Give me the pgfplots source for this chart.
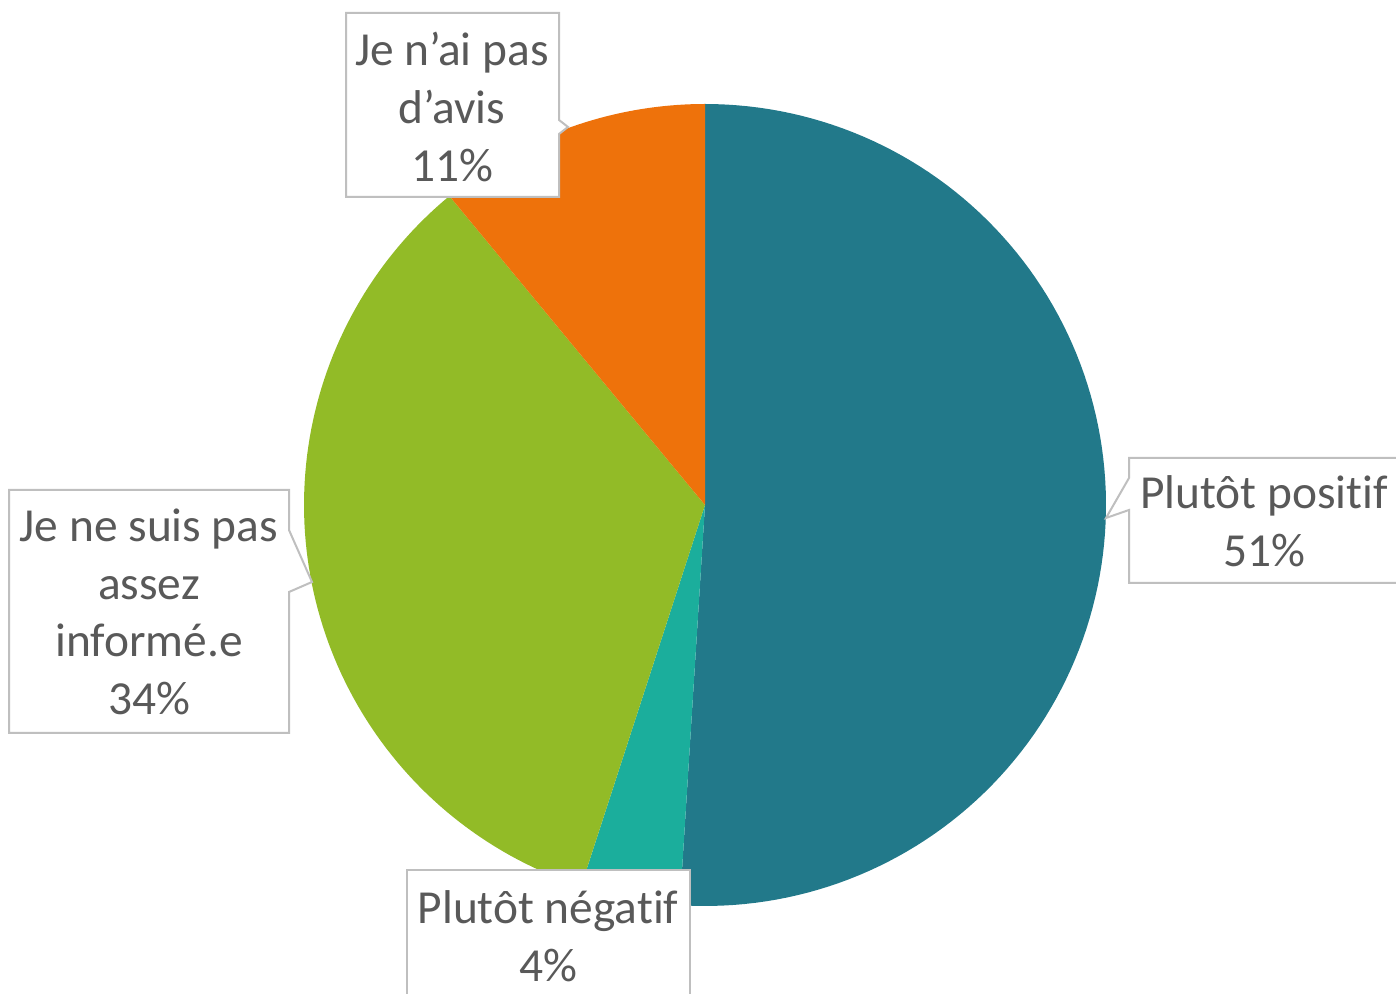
\documentclass[border=0pt]{standalone}
\usepackage{pgfplots}
\pgfplotsset{compat=1.18}
\usepackage{fontspec}
\setmainfont[Ligatures=NoCommon]{Carlito}
\definecolor{cPos}{HTML}{22798A}
\definecolor{cNeg}{HTML}{1BAE9C}
\definecolor{cInf}{HTML}{92BB27}
\definecolor{cAvis}{HTML}{EE720B}
\definecolor{txt}{HTML}{595959}
\definecolor{bord}{HTML}{BFBFBF}
% values (percent), clockwise from 12 o'clock
\def\vPos{51}\def\vNeg{4}\def\vInf{34}\def\vAvis{11}
\begin{document}
\begin{tikzpicture}
\pgfmathsetmacro{\aA}{90}
\pgfmathsetmacro{\aB}{\aA-3.6*\vPos}
\pgfmathsetmacro{\aC}{\aB-3.6*\vNeg}
\pgfmathsetmacro{\aD}{\aC-3.6*\vInf}
\pgfmathsetmacro{\aE}{\aD-3.6*\vAvis}
\begin{axis}[
  width=698pt, height=497pt, scale only axis,
  xmin=0, xmax=1396, ymin=0, ymax=994,
  hide axis, clip=false,
  trig format plots=deg,
]
\coordinate (sw) at (axis cs:0,0);
\coordinate (ne) at (axis cs:1396,994);
\addplot[fill=cPos, draw=none, domain=\aB:\aA, samples=120] ({705+401*cos(x)},{489+401*sin(x)}) -- (axis cs:705,489) -- cycle;
\addplot[fill=cNeg, draw=none, domain=\aC:\aB, samples=20] ({705+401*cos(x)},{489+401*sin(x)}) -- (axis cs:705,489) -- cycle;
\addplot[fill=cInf, draw=none, domain=\aD:\aC, samples=100] ({705+401*cos(x)},{489+401*sin(x)}) -- (axis cs:705,489) -- cycle;
\addplot[fill=cAvis, draw=none, domain=\aE:\aD, samples=40] ({705+401*cos(x)},{489+401*sin(x)}) -- (axis cs:705,489) -- cycle;
% callout boxes
\draw[bord, line width=1pt, fill=white, line join=miter]
  (axis cs:346,981) -- (axis cs:559,981) -- (axis cs:559,874) -- (axis cs:568,867) -- (axis cs:559,860) -- (axis cs:559,797) -- (axis cs:346,797) -- cycle;
\draw[bord, line width=1pt, fill=white]
  (axis cs:1129,536) -- (axis cs:1410,536) -- (axis cs:1410,411) -- (axis cs:1129,411) -- (axis cs:1129,484) -- (axis cs:1106,476) -- (axis cs:1129,516) -- cycle;
\draw[bord, line width=1pt, fill=white]
  (axis cs:9,504) -- (axis cs:289,504) -- (axis cs:289,464) -- (axis cs:312,412) -- (axis cs:289,402) -- (axis cs:289,261) -- (axis cs:9,261) -- cycle;
\draw[bord, line width=1pt, fill=white]
  (axis cs:407,124) -- (axis cs:690,124) -- (axis cs:690,-20) -- (axis cs:407,-20) -- cycle;
% labels
\begin{scope}[every node/.style={text=txt, font=\fontsize{23.7pt}{28.8pt}\selectfont, align=center, inner sep=0pt}]
\node at (axis cs:452,887) {Je n’ai pas\\d’avis\\11\%};
\node at (axis cs:1264,473) {Plutôt positif\\51\%};
\node at (axis cs:149,382) {Je ne suis pas\\assez\\informé.e\\34\%};
\node at (axis cs:548,58) {Plutôt négatif\\4\%};
\end{scope}
\end{axis}
\pgfresetboundingbox
\useasboundingbox (sw) rectangle (ne);
\end{tikzpicture}
\end{document}
